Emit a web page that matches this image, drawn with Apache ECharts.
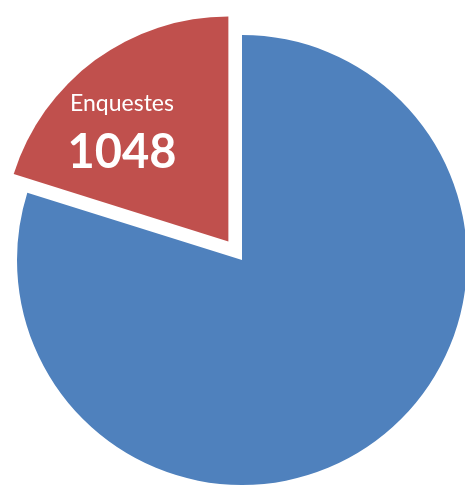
<!DOCTYPE html>
<html>
<head>
<meta charset="utf-8">
<script src="https://cdn.jsdelivr.net/npm/echarts@6/dist/echarts.min.js"></script>
<style>
  html, body { margin: 0; padding: 0; background: #ffffff; }
  #chart { width: 465px; height: 485px; }
</style>
</head>
<body>
<div id="chart"></div>
<script>
// Slice names, values and colours
const sliceNames = ['Altres', 'Enquestes'];
const sliceValues = [4150, 1048];
const sliceColors = ['#4F81BD', '#C0504D'];
const labelledSlice = 'Enquestes';

const chart = echarts.init(document.getElementById('chart'), null, { renderer: 'canvas' });

const data = sliceNames.map((name, i) => ({
  name: name,
  value: sliceValues[i],
  selected: name === labelledSlice,
  itemStyle: { color: sliceColors[i] },
  label: { show: name === labelledSlice }
}));

chart.setOption({
  animation: false,
  backgroundColor: '#ffffff',
  series: [{
    type: 'pie',
    center: [242, 260],
    radius: [0, 225],
    startAngle: 90,
    clockwise: true,
    selectedMode: 'single',
    selectedOffset: 23,
    avoidLabelOverlap: false,
    emphasis: { disabled: true },
    itemStyle: { borderWidth: 0 },
    label: {
      position: 'inside',
      formatter: '{n|{b}}\n{v|{c}}',
      color: '#ffffff',
      rich: {
        n: { fontFamily: 'Lato', fontSize: 23, color: '#ffffff', lineHeight: 42, align: 'center' },
        v: { fontFamily: 'Lato', fontSize: 47, fontWeight: 'bold', color: '#ffffff', lineHeight: 56, align: 'center' }
      }
    },
    labelLine: { show: false },
    labelLayout: { dx: -38, dy: -17 },
    data: data
  }]
});
</script>
</body>
</html>
